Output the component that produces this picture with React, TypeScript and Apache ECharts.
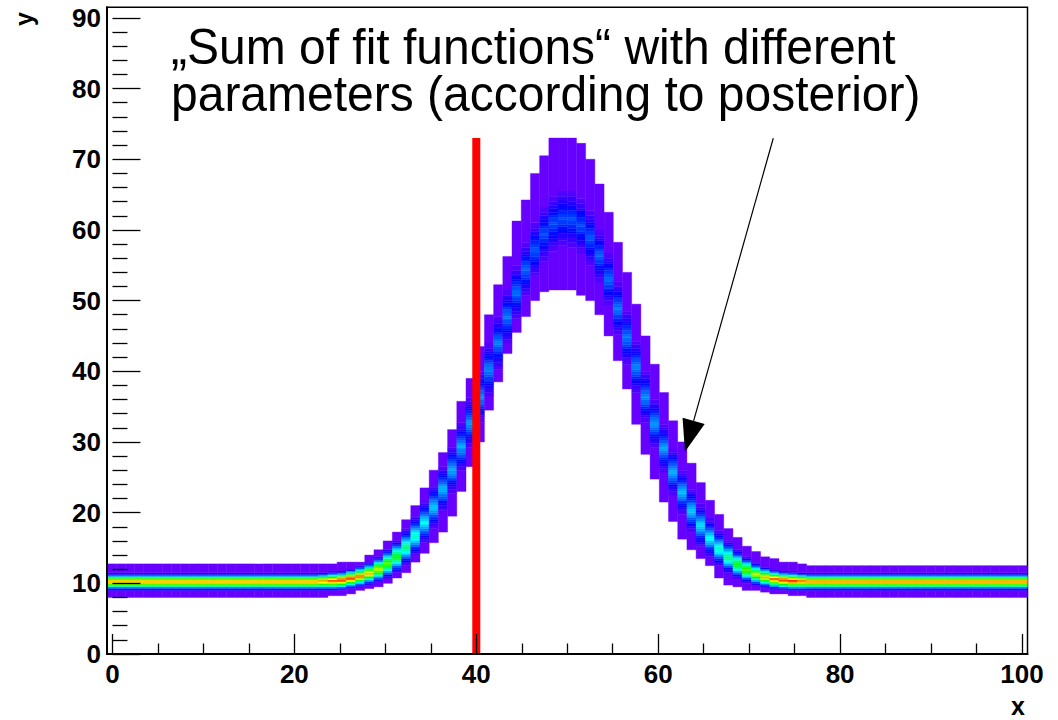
import React, { useEffect, useRef } from "react";
import * as echarts from "echarts";

// ---- histogram geometry (bins along x) ----
const X_BIN_MIN = -0.6;
const X_BIN_MAX = 100.6;
const N_X_BINS = 100;
const Y_BIN = 0.25;

// ---- band, one value per x bin (0..99) ----
// upper edge of the band (outer purple)
const BAND_HI = [
  12.7, 12.7, 12.7, 12.7, 12.7, 12.7, 12.7, 12.7, 12.7, 12.7, 12.7, 12.7, 12.7, 12.7, 12.7, 12.7, 12.7, 12.7, 12.7, 12.7, 12.7, 12.7, 12.7, 12.7,
  12.8, 12.9, 13.0, 13.1, 13.9, 14.7, 15.9, 17.2, 19.1, 21.1, 23.5, 26.0, 28.4, 31.7, 35.7, 39.1, 43.5, 48.0, 52.3, 56.3, 61.2, 64.2, 68.0, 70.6,
  73.0, 73.0, 73.0, 72.3, 69.9, 66.6, 62.6, 58.3, 54.0, 49.5, 45.1, 40.9, 36.9, 33.1, 30.0, 27.0, 24.3, 21.8, 19.7, 17.8, 16.4, 15.2, 14.5, 13.8,
  13.4, 13.1, 12.9, 12.7,
  12.6, 12.6, 12.6, 12.6, 12.6, 12.6, 12.6, 12.6, 12.6, 12.6, 12.6, 12.6, 12.6, 12.6, 12.6, 12.6, 12.6, 12.6, 12.6, 12.6, 12.6, 12.6, 12.6, 12.6,
];
// lower edge of the band
const BAND_LO = [
  8.0, 8.0, 8.0, 8.0, 8.0, 8.0, 8.0, 8.0, 8.0, 8.0, 8.0, 8.0, 8.0, 8.0, 8.0, 8.0, 8.0, 8.0, 8.0, 8.0, 8.0, 8.0,
  8.05, 8.1, 8.2, 8.35, 8.6, 8.9, 9.2, 9.6, 10.0, 10.7, 11.6, 13.1, 14.2, 15.7, 17.3, 19.4, 23.0, 26.5, 30.0, 34.5, 38.5, 42.5, 45.4, 47.7,
  49.9, 51.2, 51.6, 51.6, 51.4, 50.8, 49.9, 48.0, 45.0, 41.5, 37.5, 32.5, 28.3, 24.8, 21.5, 18.8, 16.3, 14.8, 13.5, 12.4, 10.7, 9.8, 9.5, 9.1,
  9.0, 8.8, 8.6, 8.4, 8.3, 8.15, 8.1, 8.05,
  8.0, 8.0, 8.0, 8.0, 8.0, 8.0, 8.0, 8.0, 8.0, 8.0, 8.0, 8.0, 8.0, 8.0, 8.0, 8.0, 8.0, 8.0, 8.0, 8.0, 8.0, 8.0,
];
// centre of the densest ridge
const RIDGE = [
  10.25, 10.25, 10.25, 10.25, 10.25, 10.25, 10.25, 10.25, 10.25, 10.25, 10.25, 10.25, 10.25, 10.25, 10.25, 10.25, 10.25, 10.25, 10.25, 10.25, 10.25, 10.25, 10.25,
  10.3, 10.35, 10.45, 10.7, 11.0, 11.4, 12.0, 12.8, 13.8, 15.1, 16.7, 18.6, 20.8, 23.3, 26.1, 29.3, 32.7, 36.4, 40.2, 44.0, 47.7, 51.2, 54.4,
  57.2, 59.4, 60.9, 61.6, 61.5, 60.6, 58.9, 56.3, 53.0, 48.9, 44.8, 40.6, 36.4, 32.6, 29.1, 25.8, 22.9, 20.3, 18.2, 16.4, 14.9, 13.7, 12.7,
  11.9, 11.3, 10.9, 10.6, 10.45, 10.35, 10.3,
  10.25, 10.25, 10.25, 10.25, 10.25, 10.25, 10.25, 10.25, 10.25, 10.25, 10.25, 10.25, 10.25, 10.25, 10.25, 10.25, 10.25, 10.25, 10.25, 10.25, 10.25, 10.25, 10.25, 10.25,
];
// density at the ridge (0 = purple .. 1 = red)
const PEAK = [
  0.9, 0.9, 0.9, 0.9, 0.9, 0.9, 0.9, 0.9, 0.9, 0.9, 0.9, 0.9, 0.9, 0.9, 0.9, 0.9, 0.9, 0.9, 0.9, 0.9, 0.9, 0.9, 0.9, 0.9,
  0.95, 1.0, 1.0, 0.95, 0.85, 0.75, 0.65, 0.55, 0.45, 0.38, 0.32, 0.28, 0.26, 0.25, 0.24, 0.23, 0.22, 0.21, 0.2, 0.2, 0.19, 0.18, 0.17, 0.16,
  0.16, 0.16, 0.16, 0.16, 0.17, 0.18, 0.19, 0.2, 0.2, 0.21, 0.22, 0.23, 0.24, 0.25, 0.26, 0.28, 0.3, 0.33, 0.38, 0.45, 0.55, 0.65, 0.75, 0.85,
  0.95, 1.0, 1.0, 0.95,
  0.92, 0.92, 0.92, 0.92, 0.92, 0.92, 0.92, 0.92, 0.92, 0.92, 0.92, 0.92, 0.92, 0.92, 0.92, 0.92, 0.92, 0.92, 0.92, 0.92, 0.92, 0.92, 0.92, 0.92,
];
// half-width of the coloured core around the ridge
const CORE = [
  1.0, 1.0, 1.0, 1.0, 1.0, 1.0, 1.0, 1.0, 1.0, 1.0, 1.0, 1.0, 1.0, 1.0, 1.0, 1.0, 1.0, 1.0, 1.0, 1.0, 1.0, 1.0, 1.0,
  1.05, 1.1, 1.1, 1.15, 1.2, 1.3, 1.5, 1.7, 1.9, 2.1, 2.3, 2.5, 2.6, 2.7, 2.8, 2.9, 3.0, 3.1, 3.2, 3.3, 3.3, 3.3, 3.3, 3.4, 3.4,
  3.5, 3.5, 3.5, 3.4, 3.4, 3.3, 3.3, 3.3, 3.3, 3.2, 3.1, 3.0, 2.9, 2.8, 2.7, 2.6, 2.5, 2.3, 2.1, 1.9, 1.7, 1.5, 1.3, 1.2,
  1.15, 1.1, 1.1, 1.05,
  1.0, 1.0, 1.0, 1.0, 1.0, 1.0, 1.0, 1.0, 1.0, 1.0, 1.0, 1.0, 1.0, 1.0, 1.0, 1.0, 1.0, 1.0, 1.0, 1.0, 1.0, 1.0, 1.0, 1.0,
];
// fall-off of the density across the core (relative distance -> relative level)
const PROFILE_T = [0, 0.25, 0.5, 0.75, 1.0, 1.25];
const PROFILE_V = [1, 0.8, 0.55, 0.3, 0.12, 0];

// vertical marker and arrow
const MARKER_X = 40;
const MARKER_TOP = 73;
const ARROW = [72.65, 72.97, 62.94, 28.63];

const X_TICKS = [0, 20, 40, 60, 80, 100];
const Y_TICKS = [0, 10, 20, 30, 40, 50, 60, 70, 80, 90];

const N_COLORS = 50;
const PALETTE: string[] = [];
for (let i = 0; i < N_COLORS; i++) {
  const h = 264 * (1 - i / (N_COLORS - 1));
  PALETTE.push(`hsl(${h.toFixed(1)},100%,50%)`);
}

function profile(t: number) {
  if (t >= PROFILE_T[PROFILE_T.length - 1]) return 0;
  for (let i = 1; i < PROFILE_T.length; i++) {
    if (t <= PROFILE_T[i]) {
      const f = (t - PROFILE_T[i - 1]) / (PROFILE_T[i] - PROFILE_T[i - 1]);
      return PROFILE_V[i - 1] + f * (PROFILE_V[i] - PROFILE_V[i - 1]);
    }
  }
  return 0;
}

function buildCells() {
  const bw = (X_BIN_MAX - X_BIN_MIN) / N_X_BINS;
  const cells: number[][] = [];
  for (let k = 0; k < N_X_BINS; k++) {
    const x0 = X_BIN_MIN + k * bw;
    const x1 = x0 + bw;
    const j0 = Math.round(BAND_LO[k] / Y_BIN);
    const j1 = Math.round(BAND_HI[k] / Y_BIN);
    let runStart = j0;
    let runIdx = -1;
    for (let j = j0; j <= j1; j++) {
      let idx = -2;
      if (j < j1) {
        const yc = (j + 0.5) * Y_BIN;
        const t = Math.abs(yc - RIDGE[k]) / CORE[k];
        const lvl = PEAK[k] * profile(t);
        idx = Math.max(0, Math.min(N_COLORS - 1, Math.round(lvl * (N_COLORS - 1))));
      }
      if (idx !== runIdx) {
        if (runIdx >= 0) cells.push([x0, x1, runStart * Y_BIN, j * Y_BIN, runIdx]);
        runStart = j;
        runIdx = idx;
      }
    }
  }
  return cells;
}

export default function App() {
  const ref = useRef<HTMLDivElement>(null);
  useEffect(() => {
    if (!ref.current) return;
    const chart = echarts.init(ref.current, null, { renderer: "svg" });
    const labelFont = { fontFamily: "Liberation Sans", fontWeight: "bold" as const, fontSize: 26, color: "#000" };
    const option: any = {
      animation: false,
      backgroundColor: "#fff",
      grid: [
        { left: 107, right: 30.5, top: 7.3, bottom: 66, show: true, borderColor: "#000", borderWidth: 1.5, backgroundColor: "transparent" },
        { left: 112.46, right: 36, top: 17.9, bottom: 66 },
      ],
      xAxis: [
        {
          gridIndex: 0, type: "value", min: X_BIN_MIN, max: X_BIN_MAX, z: 10,
          axisLine: { show: true, onZero: false, lineStyle: { color: "#000", width: 2 } },
          axisTick: { show: false }, axisLabel: { show: false }, splitLine: { show: false },
        },
        {
          gridIndex: 1, type: "value", min: 0, max: 100, interval: 20, z: 10,
          axisLine: { show: false },
          axisTick: { show: true, inside: true, length: 20, lineStyle: { color: "#000", width: 1.3 } },
          minorTick: { show: true, splitNumber: 4, length: 10.5, lineStyle: { color: "#000", width: 1.3 } },
          axisLabel: { ...labelFont, margin: 7, formatter: (v: number) => (X_TICKS.includes(v) ? String(v) : "") },
          splitLine: { show: false }, minorSplitLine: { show: false },
        },
      ],
      yAxis: [
        {
          gridIndex: 0, type: "value", min: 0, max: 91.5, z: 10,
          axisLine: { show: true, onZero: false, lineStyle: { color: "#000", width: 2 } },
          axisTick: { show: false }, axisLabel: { show: false }, splitLine: { show: false },
        },
        {
          gridIndex: 1, type: "value", min: 0, max: 90, interval: 10, offset: 5.46, z: 10,
          axisLine: { show: false },
          axisTick: { show: true, inside: true, length: 28, lineStyle: { color: "#000", width: 1.3 } },
          minorTick: { show: true, splitNumber: 5, length: 15, lineStyle: { color: "#000", width: 1.3 } },
          axisLabel: { ...labelFont, margin: 6, formatter: (v: number) => (Y_TICKS.includes(v) ? String(v) : "") },
          splitLine: { show: false }, minorSplitLine: { show: false },
        },
      ],
      series: [
        {
          type: "custom",
          xAxisIndex: 0, yAxisIndex: 0,
          clip: true,
          silent: true,
          z: 2,
          encode: { x: [0, 1], y: [2, 3] },
          data: buildCells(),
          renderItem: (params: any, api: any) => {
            const p0 = api.coord([api.value(0), api.value(3)]);
            const p1 = api.coord([api.value(1), api.value(2)]);
            const c = PALETTE[api.value(4)];
            return {
              type: "rect",
              shape: { x: p0[0], y: p0[1], width: p1[0] - p0[0], height: p1[1] - p0[1] },
              style: { fill: c, stroke: c, lineWidth: 0.4 },
            };
          },
        },
        {
          type: "line",
          xAxisIndex: 0, yAxisIndex: 0,
          z: 4,
          symbol: "none",
          silent: true,
          data: [[MARKER_X, 0], [MARKER_X, MARKER_TOP]],
          lineStyle: { color: "#ff0000", width: 8, cap: "butt" },
        },
        {
          type: "custom",
          xAxisIndex: 0, yAxisIndex: 0,
          z: 5,
          silent: true,
          encode: { x: [0, 2], y: [1, 3] },
          data: [ARROW],
          renderItem: (params: any, api: any) => {
            const s = api.coord([api.value(0), api.value(1)]);
            const t = api.coord([api.value(2), api.value(3)]);
            const dx = s[0] - t[0];
            const dy = s[1] - t[1];
            const L = Math.hypot(dx, dy);
            const ux = dx / L;
            const uy = dy / L;
            const hl = 32;
            const hw = 11.5;
            const bx = t[0] + ux * hl;
            const by = t[1] + uy * hl;
            const px = -uy;
            const py = ux;
            return {
              type: "group",
              children: [
                { type: "line", shape: { x1: s[0], y1: s[1], x2: bx, y2: by }, style: { stroke: "#000", lineWidth: 1.2 } },
                {
                  type: "polygon",
                  shape: { points: [[t[0], t[1]], [bx + px * hw, by + py * hw], [bx - px * hw, by - py * hw]] },
                  style: { fill: "#000" },
                },
              ],
            };
          },
        },
      ],
      graphic: [
        {
          type: "group",
          x: 171,
          y: 0,
          scaleX: 0.96,
          z: 20,
          children: [
            {
              type: "text", x: 0, y: 47,
              style: { text: "\u201ESum of fit functions\u201C with different", fontFamily: "Liberation Sans", fontSize: 50, fill: "#000", verticalAlign: "middle" },
            },
            {
              type: "text", x: 0, y: 94,
              style: { text: "parameters (according to posterior)", fontFamily: "Liberation Sans", fontSize: 50, fill: "#000", verticalAlign: "middle" },
            },
          ],
        },
        {
          type: "text", x: 1018, y: 706, z: 20,
          style: { text: "x", fontFamily: "Liberation Sans", fontWeight: "bold", fontSize: 25, fill: "#000", align: "center", verticalAlign: "middle" },
        },
        {
          type: "text", x: 24, y: 19, rotation: Math.PI / 2, z: 20,
          style: { text: "y", fontFamily: "Liberation Sans", fontWeight: "bold", fontSize: 25, fill: "#000", align: "center", verticalAlign: "middle" },
        },
      ],
    };
    chart.setOption(option);
    return () => chart.dispose();
  }, []);
  return <div ref={ref} style={{ position: "fixed", left: 0, top: 0, width: 1058, height: 720, background: "#fff" }} />;
}
